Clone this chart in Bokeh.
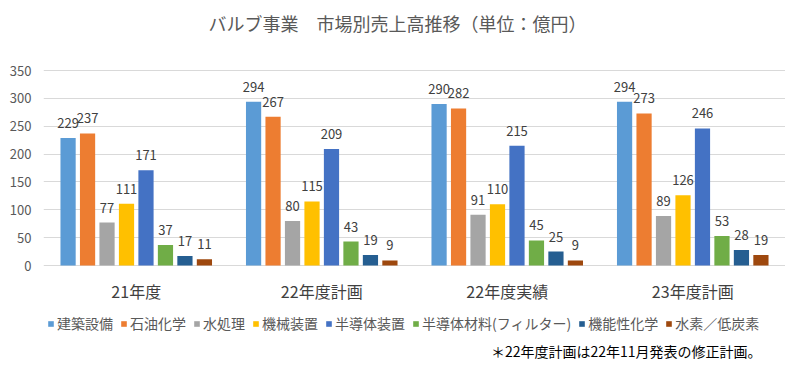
from bokeh.plotting import figure
from bokeh.models import (ColumnDataSource, FactorRange, Range1d, Legend, LegendItem, Label)
from bokeh.core.properties import value
from bokeh.transform import dodge
from bokeh.embed import file_html
from bokeh.resources import INLINE

categories = ["21年度", "22年度計画", "22年度実績", "23年度計画"]
series_names = ["建築設備", "石油化学", "水処理", "機械装置", "半導体装置",
                "半導体材料(フィルター)", "機能性化学", "水素／低炭素"]
kenchiku = [229, 294, 290, 294]
sekiyu = [237, 267, 282, 273]
mizu = [77, 80, 91, 89]
kikai = [111, 115, 110, 126]
handotai_sochi = [171, 209, 215, 246]
handotai_zairyo = [37, 43, 45, 53]
kinousei = [17, 19, 25, 28]
suiso = [11, 9, 9, 19]
series_values = [kenchiku, sekiyu, mizu, kikai, handotai_sochi,
                 handotai_zairyo, kinousei, suiso]
colors = ["#5B9BD5", "#ED7D31", "#A5A5A5", "#FFC000", "#4472C4",
          "#70AD47", "#255E91", "#9E480E"]
y_ticks = [0, 50, 100, 150, 200, 250, 300, 350]
title_text = "バルブ事業　市場別売上高推移（単位：億円）"
footnote_text = "＊22年度計画は22年11月発表の修正計画。"

FONT = "Noto Sans CJK JP"

W, H = 785, 363
LEFT = 43
ZERO_PX = 265          # pixel row of value 0 (from top)
k = 195 / 350          # pixels per value unit
px = (W - LEFT) / 4    # pixels per category

p = figure(x_range=FactorRange(*categories),
           y_range=Range1d(-(H - ZERO_PX) / k, ZERO_PX / k),
           width=W, height=H, output_backend="svg", toolbar_location=None,
           x_axis_location=None,
           min_border_left=LEFT, min_border_right=0, min_border_top=0,
           min_border_bottom=0)
p.outline_line_color = None
p.background_fill_color = "white"
p.border_fill_color = "white"

step = 0.105
bar_w = 0.082
items = []
for i, (name, vals, col) in enumerate(zip(series_names, series_values, colors)):
    off = (i - 3.5) * step
    src = ColumnDataSource(dict(cat=categories, val=vals, lab=[str(v) for v in vals]))
    r = p.vbar(x=dodge("cat", off, range=p.x_range), top="val", width=bar_w,
               source=src, fill_color=col, line_color=None)
    p.text(x=dodge("cat", off, range=p.x_range), y="val", text="lab", source=src,
           text_align="center", text_baseline="middle", y_offset=-15,
           text_font_size=value("13px"), text_color=value("#404040"),
           text_font=value(FONT))
    items.append(LegendItem(label=name, renderers=[r]))

# category labels (x axis)
cat_src = ColumnDataSource(dict(cat=categories, y=[-25 / k] * len(categories)))
p.text(x="cat", y="y", text="cat", source=cat_src, text_align="center",
       text_baseline="middle", text_font_size=value("16px"),
       text_color=value("#404040"), text_font=value(FONT))

legend = Legend(items=items, orientation="horizontal", location=(4, 30),
                glyph_width=7, glyph_height=7, label_standoff=3, spacing=7,
                padding=0, margin=0, border_line_color=None,
                background_fill_alpha=0,
                label_text_font=FONT, label_text_font_size="14px",
                label_text_color="#595959", label_height=20)
p.add_layout(legend, "center")

p.yaxis.ticker = y_ticks
p.yaxis.axis_line_color = None
p.yaxis.major_tick_line_color = None
p.yaxis.minor_tick_line_color = None
p.yaxis.major_tick_out = 0
p.yaxis.major_label_standoff = 12
p.yaxis.major_label_text_font = FONT
p.yaxis.major_label_text_font_size = "13px"
p.yaxis.major_label_text_color = "#595959"

p.xgrid.grid_line_color = None
p.ygrid.grid_line_color = "#D9D9D9"
p.ygrid.grid_line_width = 1
p.ygrid.ticker = y_ticks

p.add_layout(Label(x=(397 - LEFT) / px, y=(ZERO_PX - 22) / k, text=title_text,
                   text_align="center", text_baseline="middle", text_font=FONT,
                   text_font_size="18px", text_color="#595959"))
p.add_layout(Label(x=(761 - LEFT) / px, y=-(350 - ZERO_PX) / k, text=footnote_text,
                   text_align="right", text_baseline="middle", text_font=FONT,
                   text_font_size="14px", text_color="#000000"))

open("out.html", "w").write(file_html(p, INLINE))
